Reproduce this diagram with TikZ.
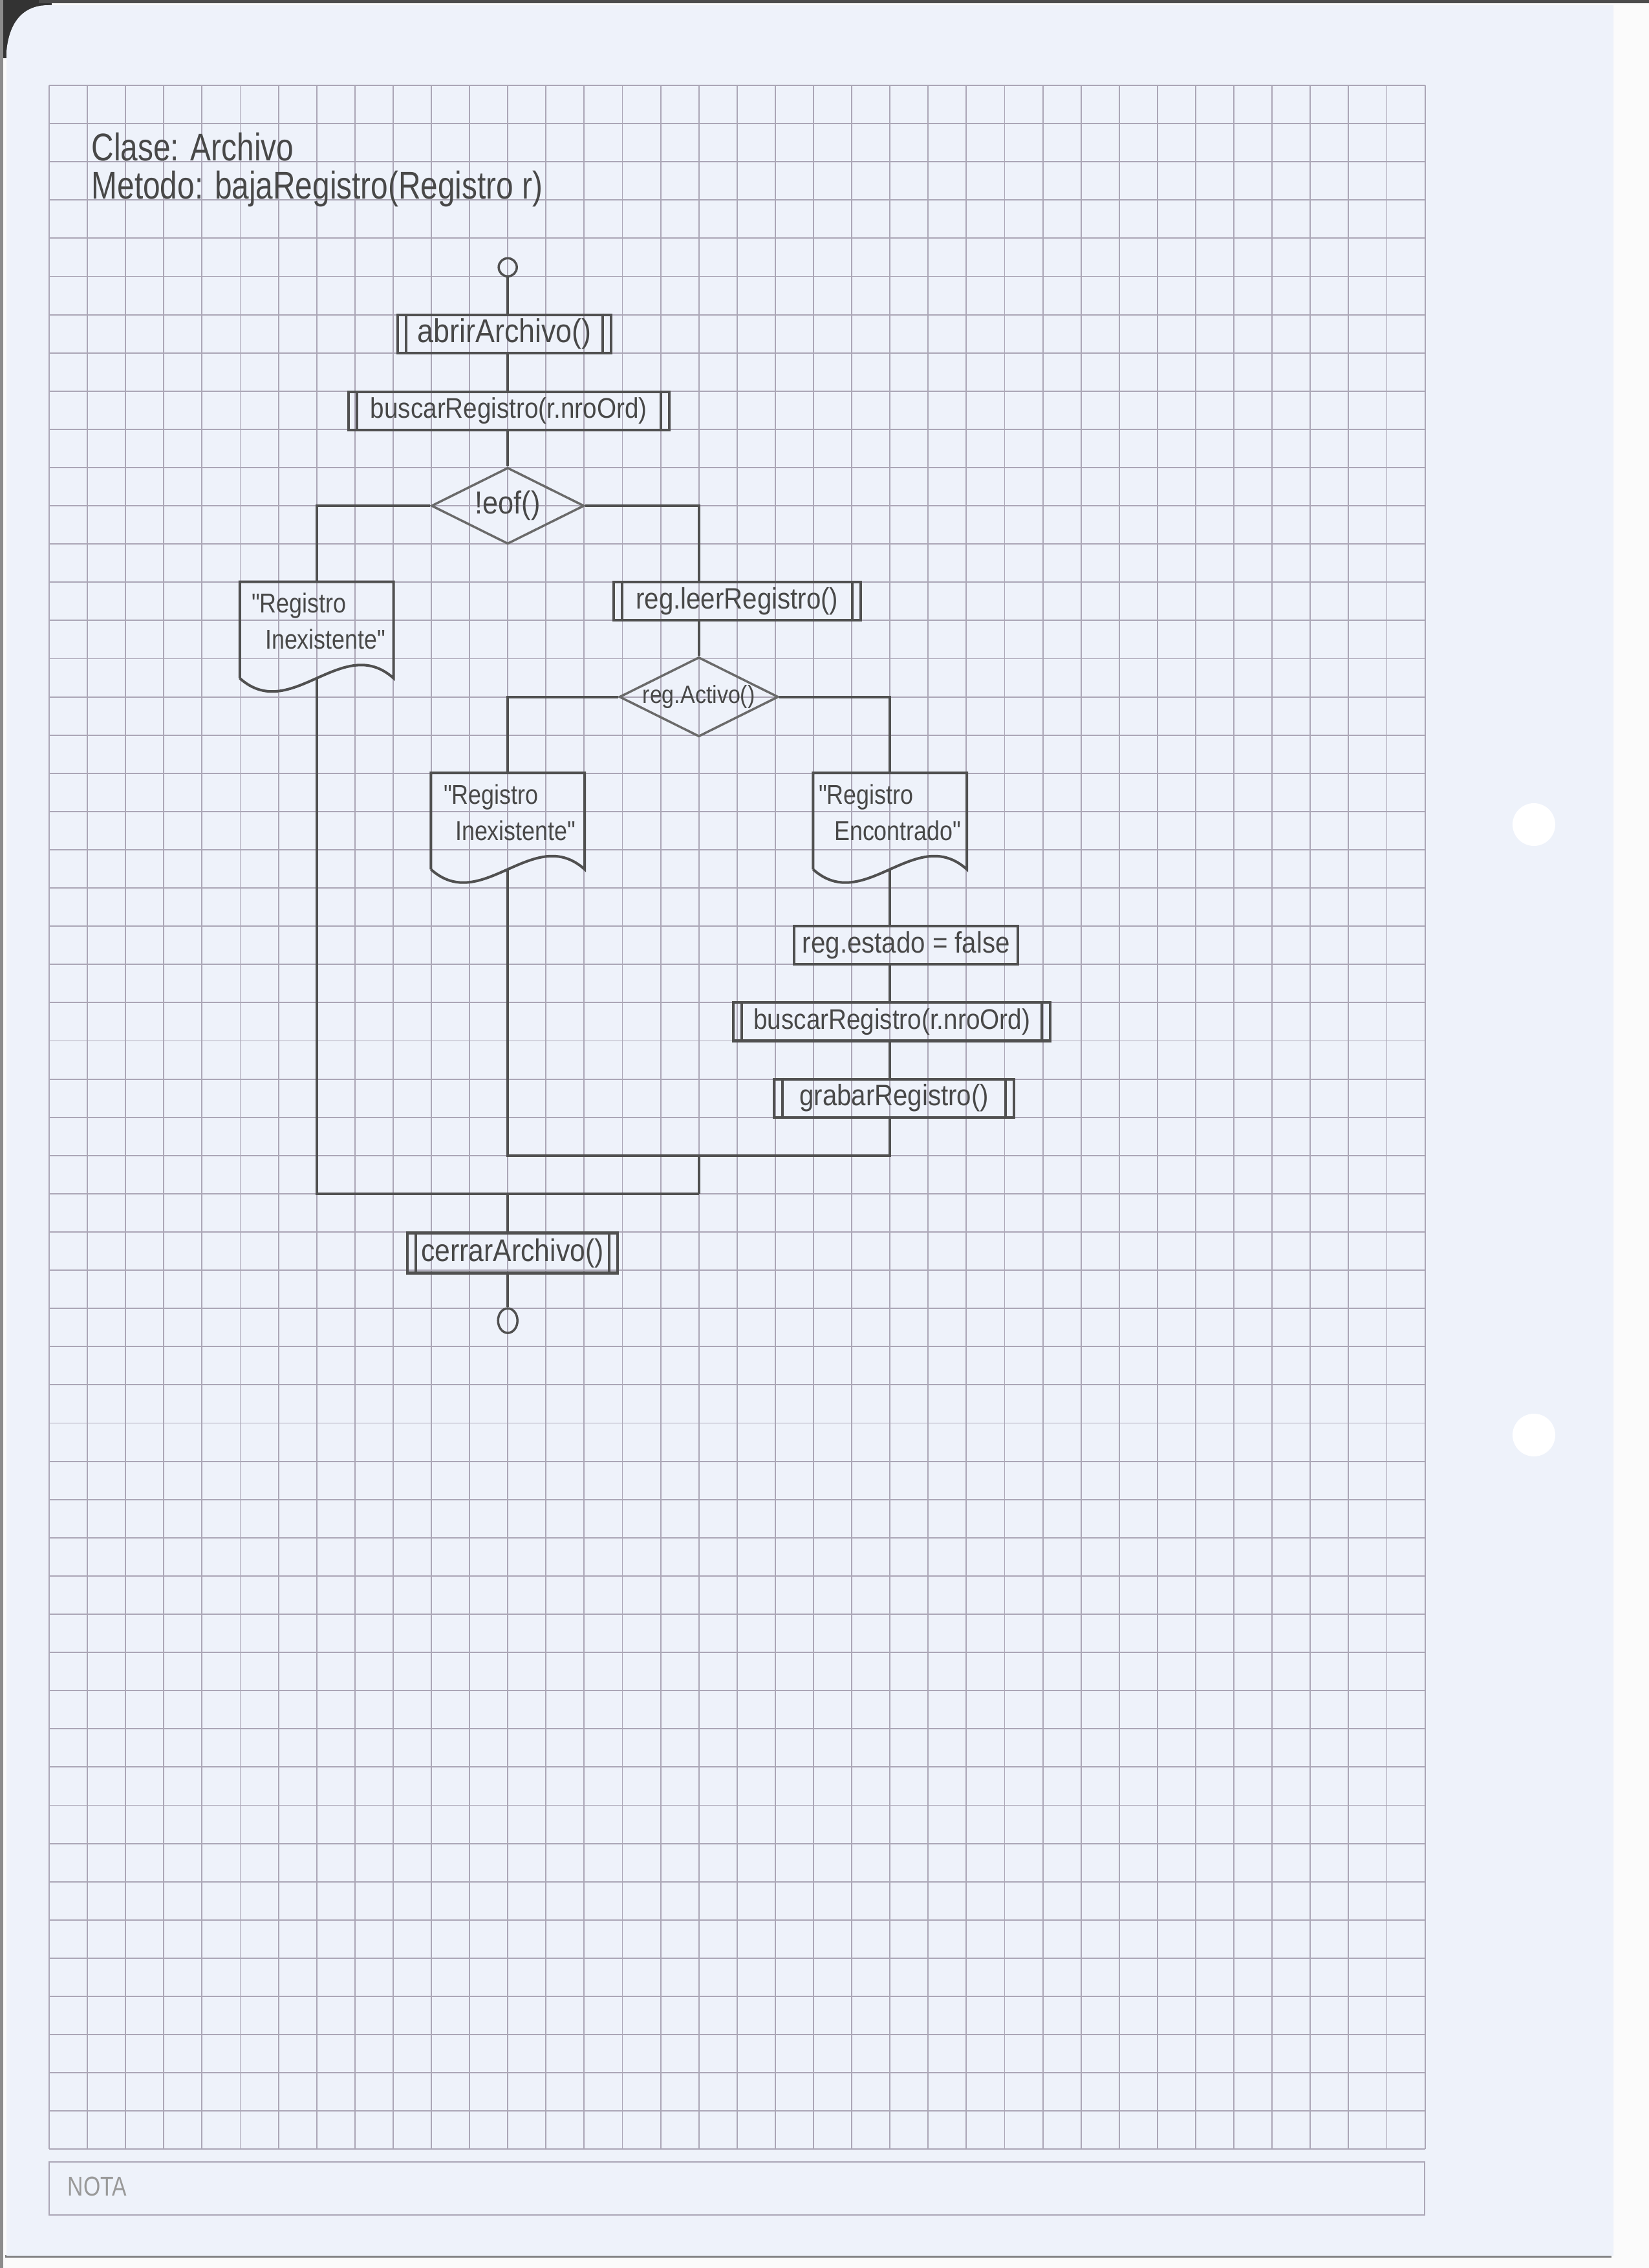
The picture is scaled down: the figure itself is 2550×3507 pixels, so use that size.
\documentclass[tikz,border=0pt]{standalone}
\usepackage{fontspec}
\setmainfont{Liberation Sans}
\newfontfamily\handn[FakeStretch=0.8]{Liberation Sans}
\newfontfamily\handb[FakeStretch=0.88]{Liberation Sans}
\newfontfamily\handd[FakeStretch=0.85, Ligatures=TeXOff]{Liberation Sans}
\usetikzlibrary{shapes.geometric,calc}
\definecolor{paper}{HTML}{EEF2FA}
\definecolor{gridc}{HTML}{ABA6B6}
\definecolor{pencil}{HTML}{505050}
\definecolor{pencillt}{HTML}{6A6A6A}
\definecolor{ptext}{HTML}{484848}
\tikzset{
  gridline/.style={draw=gridc, line width=0.55pt},
  pen/.style={draw=pencil, line width=1.15pt},
  proc/.style={rectangle, draw=pencil, line width=1.15pt, inner sep=0pt,
     minimum height=5.91mm, text=ptext, font=\handb\fontsize{13}{15}\selectfont},
  decis/.style={diamond, aspect=2, draw=pencillt, line width=1pt, inner sep=0pt,
     minimum width=23.64mm, minimum height=11.82mm, text=ptext},
  docarea/.style={rectangle, inner sep=0pt, minimum width=23.64mm, minimum height=14.775mm},
  doctext/.style={align=left, text=ptext, inner sep=0pt, font=\handd\fontsize{12}{16}\selectfont},
  title/.style={anchor=base west, inner sep=0pt, text=ptext, font=\handn\fontsize{17}{20}\selectfont},
  term/.style={draw=pencil, line width=1pt, inner sep=0pt}
}
\newcommand{\subbars}[1]{\draw[pen] ([xshift=1.5mm]#1.north west) -- ([xshift=1.5mm]#1.south west)
   ([xshift=-1.5mm]#1.north east) -- ([xshift=-1.5mm]#1.south east);}
\begin{document}
\begin{tikzpicture}[x=0.1mm,y=-0.1mm]
\useasboundingbox (0,0) rectangle (2550,3507);
% background / paper
\fill[white!97!gray] (0,0) rectangle (2550,3507);
\fill[black!80] (0,0) rectangle (80,90);
\fill[black!70] (60,0) rectangle (2550,5);
\fill[black!45] (0,0) rectangle (5,3507);
\fill[black!50] (8,3487) rectangle (2492,3491);
\fill[paper] (10,3488) -- (10,80) .. controls (14,35) and (35,8) .. (75,8) -- (2495,8) -- (2495,3488) -- cycle;
\fill[white] (2372,1275) circle (33);
\fill[white] (2372,2219) circle (33);
% NOTA box
\draw[draw=gridc, line width=0.6pt] (76,3343) rectangle (2203,3425);
\node[anchor=base west, inner sep=0pt, text=black!40, font=\handn\fontsize{12}{14}\selectfont] (nota) at (104,3395) {NOTA};

\begin{scope}[shift={(76,132)}, x=5.91mm, y=-5.91mm]
% grid
\foreach \i in {0,...,36} \draw[gridline] (\i,0) -- (\i,54);
\foreach \j in {0,...,54} \draw[gridline] (0,\j) -- (36,\j);

% titles
\node[title] (t1) at (1.1,1.97) {Clase: Archivo};
\node[title] (t2) at (1.1,2.97) {Metodo: bajaRegistro(Registro r)};

% nodes
\node[term, circle, minimum size=2.8mm] (start) at (12,4.76) {};
\node[proc, minimum width=33.04mm, font=\handb\fontsize{14.5}{16}\selectfont] (abrir) at (11.915,6.5) {abrirArchivo()};
\node[proc, minimum width=49.6mm, font=\handb\fontsize{12.5}{15}\selectfont] (busc1) at (12.025,8.52) {buscarRegistro(r.nroOrd)};
\node[decis, font=\handb\fontsize{14}{16}\selectfont] (eof) at (12,11) {!eof()};
\node[docarea] (doc1) at (7,14.25) {};
\node[doctext] (doc1t) at (7.05,14.02) {"Registro\\\hspace*{2.1mm}Inexistente"};
\node[proc, minimum width=38.18mm] (leer) at (18,13.5) {reg.leerRegistro()};
\coordinate (leerin) at (17,13);
\node[decis, font=\handb\fontsize{11}{13}\selectfont] (act) at (17,16) {reg.Activo()};
\node[docarea] (doc2) at (12,19.25) {};
\node[doctext] (doc2t) at (12.05,19.02) {"Registro\\\hspace*{1.8mm}Inexistente"};
\node[docarea] (doc3) at (22,19.25) {};
\node[doctext] (doc3t) at (22.0,19.02) {"Registro\\\hspace*{2.4mm}Encontrado"};
\node[proc, minimum width=34.57mm] (estado) at (22.425,22.5) {reg.estado = false};
\node[proc, minimum width=49.05mm, font=\handb\fontsize{12.5}{15}\selectfont] (busc2) at (22.05,24.5) {buscarRegistro(r.nroOrd)};
\node[proc, minimum width=37.11mm] (grabar) at (22.11,26.5) {grabarRegistro()};
\coordinate (m1) at (17,28);
\coordinate (m2) at (12,29);
\node[proc, minimum width=32.56mm, minimum height=6.2mm, font=\handb\fontsize{13.8}{16}\selectfont] (cerrar) at (12.125,30.55) {cerrarArchivo()};
\node[term, ellipse, minimum width=3mm, minimum height=3.8mm] (fin) at (12,32.32) {};

% subroutine bars
\subbars{abrir}
\subbars{busc1}
\subbars{leer}
\subbars{busc2}
\subbars{grabar}
\subbars{cerrar}

% document shapes
\foreach \d in {doc1,doc2,doc3}
  \draw[pen] (\d.south west) -- (\d.north west) -- (\d.north east) -- (\d.south east)
     .. controls +(-1.333,-1.2) and +(1.333,1.2) .. (\d.south west);

% connectors
\draw[pen] (start.south) -- (start.south |- abrir.north);
\draw[pen] (start.south |- abrir.south) -- (start.south |- busc1.north);
\draw[pen] (start.south |- busc1.south) -- (eof.north);
\draw[pen] (eof.west) -| (doc1.north);
\draw[pen] (eof.east) -| (leerin);
\draw[pen] (leerin |- leer.south) -- (act.north);
\draw[pen] (act.west) -| (doc2.north);
\draw[pen] (act.east) -| (doc3.north);
\draw[pen] (doc3.south) -- (doc3.south |- estado.north);
\draw[pen] (doc3.south |- estado.south) -- (doc3.south |- busc2.north);
\draw[pen] (doc3.south |- busc2.south) -- (doc3.south |- grabar.north);
\draw[pen] (doc3.south |- grabar.south) |- (doc2.south |- m1) -- (doc2.south);
\draw[pen] (m1) -- (m1 |- m2);
\draw[pen] (doc1.south) |- (m1 |- m2);
\draw[pen] (m2) -- (m2 |- cerrar.north);
\draw[pen] (m2 |- cerrar.south) -- (fin.north);
\end{scope}
\end{tikzpicture}
\end{document}
